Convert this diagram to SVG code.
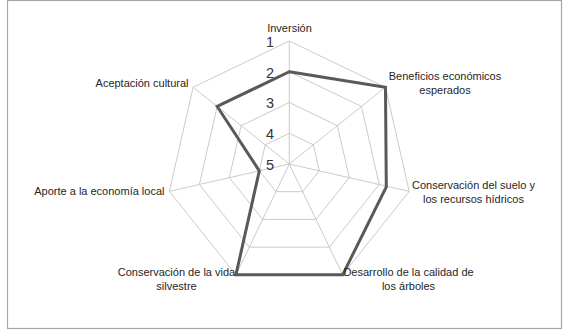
<svg xmlns="http://www.w3.org/2000/svg" width="567" height="333" viewBox="0 0 567 333">
<style>
.grid{fill:none;stroke:#c4c4c4;stroke-width:0.9}
.lbl{font-family:"Liberation Sans",Arial,sans-serif;font-size:11px;fill:#262626}
.num{font-family:"Liberation Sans",Arial,sans-serif;font-size:14.5px;fill:#333333;text-anchor:middle}
.data{fill:none;stroke:#595959;stroke-width:3;stroke-linejoin:miter}
</style>
<rect x="0" y="0" width="567" height="333" fill="#ffffff"/>
<rect x="7.5" y="0.5" width="554" height="328" fill="#ffffff" stroke="#a6a6a6" stroke-width="1.2"/>
<g id="grid">
<polygon class="grid" points="289.3,41 385.47,87.31 409.22,191.37 342.67,274.82 235.93,274.82 169.38,191.37 193.13,87.31"/>
<polygon class="grid" points="289.3,71.75 361.42,106.48 379.24,184.53 329.33,247.11 249.27,247.11 199.36,184.53 217.18,106.48"/>
<polygon class="grid" points="289.3,102.5 337.38,125.66 349.26,177.68 315.98,219.41 262.62,219.41 229.34,177.68 241.22,125.66"/>
<polygon class="grid" points="289.3,133.25 313.34,144.83 319.28,170.84 302.64,191.7 275.96,191.7 259.32,170.84 265.26,144.83"/>
<path class="grid" d="M289.3,164L289.3,41M289.3,164L385.47,87.31M289.3,164L409.22,191.37M289.3,164L342.67,274.82M289.3,164L235.93,274.82M289.3,164L169.38,191.37M289.3,164L193.13,87.31"/>
</g>
<g id="scale">
<text class="num" x="270" y="47">1</text>
<text class="num" x="270" y="77.7">2</text>
<text class="num" x="270" y="108.4">3</text>
<text class="num" x="270" y="139">4</text>
<text class="num" x="270" y="169.5">5</text>
</g>
<g id="connectors">
<polygon class="data" points="289.3,71.75 385.47,87.31 386.3,186.8 342.67,274.82 235.93,274.82 259.32,170.84 217.18,106.48"/>
</g>
<g id="inversion"><text class="lbl" x="289.5" y="32" text-anchor="middle">Inversión</text></g>
<g id="beneficios"><text class="lbl" text-anchor="middle"><tspan x="445" y="80">Beneficios económicos</tspan><tspan x="445" y="94.3">esperados</tspan></text></g>
<g id="suelo"><text class="lbl" text-anchor="middle"><tspan x="473.5" y="189">Conservación del suelo y</tspan><tspan x="473.5" y="203">los recursos hídricos</tspan></text></g>
<g id="desarrollo"><text class="lbl" text-anchor="middle"><tspan x="408.5" y="275.5">Desarrollo de la calidad de</tspan><tspan x="408.5" y="289.5">los árboles</tspan></text></g>
<g id="vida"><text class="lbl" text-anchor="middle"><tspan x="176.5" y="275.5">Conservación de la vida</tspan><tspan x="176.5" y="289.5">silvestre</tspan></text></g>
<g id="aporte"><text class="lbl" x="164.5" y="195" text-anchor="end">Aporte a la economía local</text></g>
<g id="aceptacion"><text class="lbl" x="188.5" y="86.7" text-anchor="end">Aceptación cultural</text></g>
</svg>
